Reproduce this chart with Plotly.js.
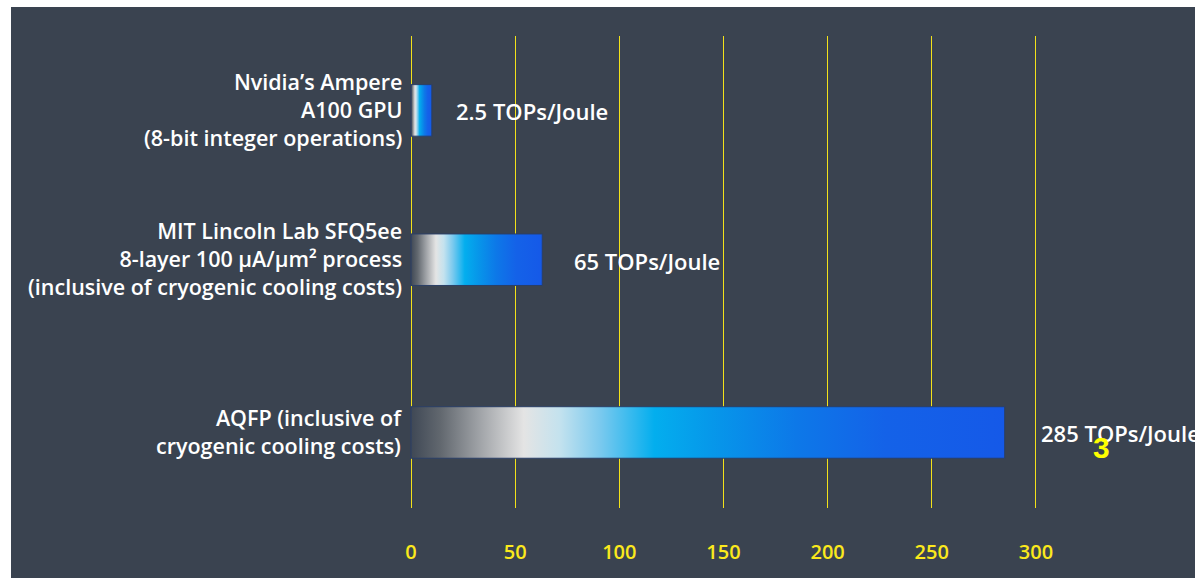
<!DOCTYPE html>
<html>
<head>
<meta charset="utf-8">
<script src="https://cdn.plot.ly/plotly-3.0.1.min.js"></script>
<style>
  html, body { margin: 0; padding: 0; background: #ffffff; width: 1195px; height: 578px; overflow: hidden; }
  #chart { position: absolute; left: 11px; top: 7px; width: 1184px; height: 571px; }
</style>
</head>
<body>
<div id="chart"></div>
<script>
// ---- data ----
const categories = [
  "Nvidia’s Ampere<br>A100 GPU<br>(8-bit integer operations)",
  "MIT Lincoln Lab SFQ5ee<br>8-layer 100 µA/µm² process<br>(inclusive of cryogenic cooling costs)",
  "AQFP (inclusive of<br>cryogenic cooling costs)"
];
const barLengths = [10, 63, 285];            // drawn bar lengths
const valueLabels = ["2.5 TOPs/Joule", "65 TOPs/Joule", "285 TOPs/Joule"];
const tickValues = [0, 50, 100, 150, 200, 250, 300];
const tickLabels = ["0", "50", "100", "150", "200", "250", "300"];
const cornerMark = "3";

// ---- styles ----
const BG = "#3a4350";
const GRID = "#f2e21a";
const TICK = "#fbe91c";
const FONT = "Open Sans, sans-serif";
const labelShift = [22, 30, 34];
const rowShift = [0, 11.75, 0];      // px the middle row sits above an even spacing
const PX_PER_ROW = 161.25;
const BAR_W = 0.32;

const trace = {
  type: "bar",
  orientation: "h",
  y: categories,
  x: barLengths,
  width: BAR_W,
  offset: rowShift.map(s => -BAR_W / 2 - s / PX_PER_ROW),
  marker: { color: "#1560e8", line: { color: "#2b3f66", width: 1 } },
  hoverinfo: "skip"
};

const annotations = [];
categories.forEach((c, i) => {
  annotations.push({
    x: 0, y: c, xref: "x", yref: "y",
    text: c, showarrow: false, xanchor: "right", yanchor: "middle", align: "right",
    xshift: -7, yshift: rowShift[i] + 1,
    font: { family: FONT, size: 21.5, color: "#ffffff", weight: 600 }
  });
  annotations.push({
    x: barLengths[i], y: c, xref: "x", yref: "y",
    text: valueLabels[i], showarrow: false, xanchor: "left", yanchor: "middle",
    xshift: labelShift[i], yshift: rowShift[i] - 1,
    font: { family: FONT, size: 22, color: "#ffffff", weight: 600 }
  });
});
annotations.push({
  x: 285, y: categories[2], xref: "x", yref: "y",
  text: cornerMark, showarrow: false, xanchor: "center", yanchor: "middle",
  xshift: 97, yshift: -15,
  font: { family: "Liberation Sans, Arial, sans-serif", size: 30, color: "#ffff00", weight: 700 }
});

const layout = {
  width: 1184, height: 571,
  paper_bgcolor: BG, plot_bgcolor: BG,
  margin: { l: 398, r: 107, t: 29, b: 70, pad: 0 },
  showlegend: false,
  xaxis: {
    range: [-2 / 2.08, 325],
    tickvals: tickValues, ticktext: tickLabels,
    showgrid: true, gridcolor: GRID, gridwidth: 1,
    zeroline: true, zerolinecolor: GRID, zerolinewidth: 1,
    showline: false, ticks: "",
    ticklabelstandoff: 30,
    tickfont: { family: FONT, size: 20, color: TICK, weight: 600 }
  },
  yaxis: {
    type: "category",
    range: [2.469, -0.462],
    showgrid: false, zeroline: false, showline: false, ticks: "",
    showticklabels: false
  },
  annotations: annotations
};

Plotly.newPlot("chart", [trace], layout, { displayModeBar: false, staticPlot: true }).then(gd => {
  const svg = gd.querySelector(".main-svg");
  const ns = "http://www.w3.org/2000/svg";
  let defs = svg.querySelector("defs");
  if (!defs) { defs = document.createElementNS(ns, "defs"); svg.insertBefore(defs, svg.firstChild); }
  const grad = document.createElementNS(ns, "linearGradient");
  grad.setAttribute("id", "barGrad");
  grad.setAttribute("x1", "0"); grad.setAttribute("y1", "0");
  grad.setAttribute("x2", "1"); grad.setAttribute("y2", "0");
  const stops = [
    [0.00, "#3f4855"], [0.05, "#62686f"], [0.12, "#a4a7ab"], [0.19, "#e4e4e4"],
    [0.25, "#c4e2ee"], [0.32, "#79c9ee"], [0.41, "#03aeee"], [0.50, "#0699ea"],
    [0.65, "#0d78e8"], [0.80, "#1462e8"], [1.00, "#1559e8"]
  ];
  stops.forEach(([o, c]) => {
    const s = document.createElementNS(ns, "stop");
    s.setAttribute("offset", o); s.setAttribute("stop-color", c);
    grad.appendChild(s);
  });
  defs.appendChild(grad);
  gd.querySelectorAll(".barlayer .point path").forEach(p => { p.style.fill = "url(#barGrad)"; });
});
</script>
</body>
</html>
